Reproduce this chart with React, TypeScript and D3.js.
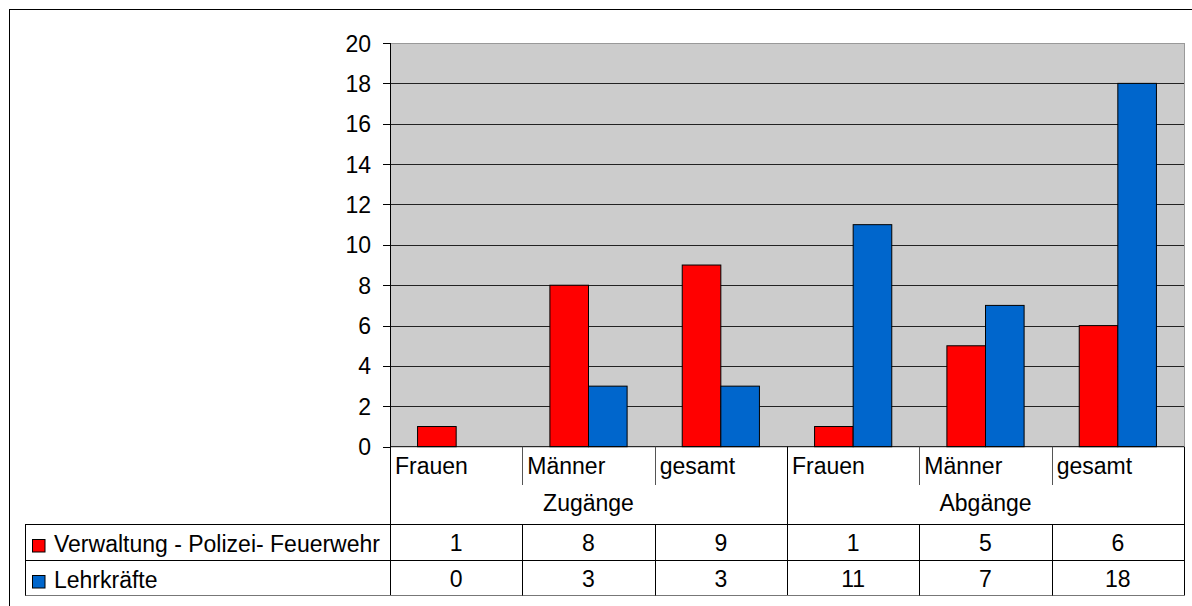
import React from 'react';
import * as d3 from 'd3';

const groups = ['Zugänge', 'Abgänge'];
const subCats = ['Frauen', 'Männer', 'gesamt'];
const seriesNames = ['Verwaltung - Polizei- Feuerwehr', 'Lehrkräfte'];
const verwaltung = [1, 8, 9, 1, 5, 6];
const lehrkraefte = [0, 3, 3, 11, 7, 18];
const yTicks = [0, 2, 4, 6, 8, 10, 12, 14, 16, 18, 20];

const colors = ['#ff0000', '#0066cc'];
const font = '"Liberation Sans", Arial, sans-serif';

const W = 1192;
const H = 606;
// plot frame
const left = 390;
const right = 1184;
const top = 43;
const base = 446.7;
// table rows
const catRowEnd = 485;
const row1 = 524;
const row2 = 560;
const row3 = 595.5;
const legendLeft = 25;

export default function App() {
    // one column per group/sub category pair
    const columns = groups.flatMap(g => subCats.map(c => g + '|' + c));
    const series = [verwaltung, lehrkraefte];

    const x = d3.scaleBand().domain(columns).range([left, right]).padding(0);
    const x1 = d3.scaleBand().domain(seriesNames).range([0, x.bandwidth()])
        .paddingInner(0).paddingOuter(0.714);
    const y = d3.scaleLinear().domain([0, 20]).range([base, top]);

    const groupX = (gi) => x(columns[gi * subCats.length]);
    const groupW = x.bandwidth() * subCats.length;

    return (
        <svg width={W} height={H} style={{ position: 'absolute', left: 0, top: 0 }}
            fontFamily={font} fontSize={23}>
            <rect x={0} y={0} width={W} height={H} fill="#fff" />
            {/* outer frame */}
            <rect x={9.5} y={9.5} width={W + 10} height={H + 10} fill="none" stroke="#000" />

            {/* plot area */}
            <rect x={left} y={top} width={right - left} height={base - top} fill="#cccccc" />
            {yTicks.filter(t => t > 0 && t < 20).map(t => (
                <line key={'g' + t} x1={left} x2={right} y1={Math.round(y(t)) + 0.5} y2={Math.round(y(t)) + 0.5}
                    stroke="#222" />
            ))}
            <line x1={left} x2={right} y1={top + 0.5} y2={top + 0.5} stroke="#999" />
            <line x1={right + 0.5} x2={right + 0.5} y1={top} y2={base} stroke="#999" />

            {/* bars */}
            {series.map((vals, si) => vals.map((v, i) => v > 0 ? (
                <rect key={si + '-' + i}
                    x={x(columns[i]) + x1(seriesNames[si])}
                    y={y(v)}
                    width={x1.bandwidth()}
                    height={base - y(v)}
                    fill={colors[si]} stroke="#000" strokeWidth={1} />
            ) : null))}

            {/* y axis */}
            <line x1={left + 0.5} x2={left + 0.5} y1={top} y2={row3} stroke="#000" />
            {yTicks.map(t => (
                <g key={'t' + t}>
                    <line x1={383} x2={left} y1={Math.round(y(t)) + 0.5} y2={Math.round(y(t)) + 0.5} stroke="#000" />
                    <text x={371} y={y(t) + 8.5} textAnchor="end">{t}</text>
                </g>
            ))}

            {/* base line */}
            <line x1={left} x2={right} y1={base} y2={base} stroke="#000" />

            {/* category labels */}
            {columns.map((c, i) => (
                <g key={'c' + i}>
                    <text x={x(c) + 5} y={474}>{c.split('|')[1]}</text>
                    {i % subCats.length !== 0 ? (
                        <line x1={Math.round(x(c)) + 0.5} x2={Math.round(x(c)) + 0.5} y1={base} y2={catRowEnd} stroke="#555" />
                    ) : null}
                </g>
            ))}
            {groups.map((g, gi) => (
                <g key={'grp' + g}>
                    <text x={groupX(gi) + groupW / 2} y={511} textAnchor="middle">{g}</text>
                    <line x1={Math.round(groupX(gi) + groupW) + 0.5} x2={Math.round(groupX(gi) + groupW) + 0.5}
                        y1={base} y2={row3} stroke="#000" />
                </g>
            ))}

            {/* data table */}
            <line x1={legendLeft} x2={right} y1={row1 + 0.5} y2={row1 + 0.5} stroke="#000" />
            <line x1={legendLeft} x2={right} y1={row2 + 0.5} y2={row2 + 0.5} stroke="#000" />
            <line x1={legendLeft} x2={right + 1} y1={row3} y2={row3} stroke="#777" />
            <line x1={legendLeft + 0.5} x2={legendLeft + 0.5} y1={row1} y2={row3} stroke="#000" />
            {columns.map((c, i) => i % subCats.length !== 0 ? (
                <line key={'tc' + i} x1={Math.round(x(c)) + 0.5} x2={Math.round(x(c)) + 0.5} y1={row1} y2={row3} stroke="#000" />
            ) : null)}

            {series.map((vals, si) => {
                const rowTop = si === 0 ? row1 : row2;
                return (
                    <g key={'row' + si}>
                        <rect x={32.5} y={rowTop + 15.5} width={12.5} height={12.5} fill={colors[si]} stroke="#000" />
                        <text x={54} y={rowTop + 28}>{seriesNames[si]}</text>
                        {vals.map((v, i) => (
                            <text key={'v' + i} x={x(columns[i]) + x.bandwidth() / 2} y={rowTop + 27}
                                textAnchor="middle">{v}</text>
                        ))}
                    </g>
                );
            })}
        </svg>
    );
}
